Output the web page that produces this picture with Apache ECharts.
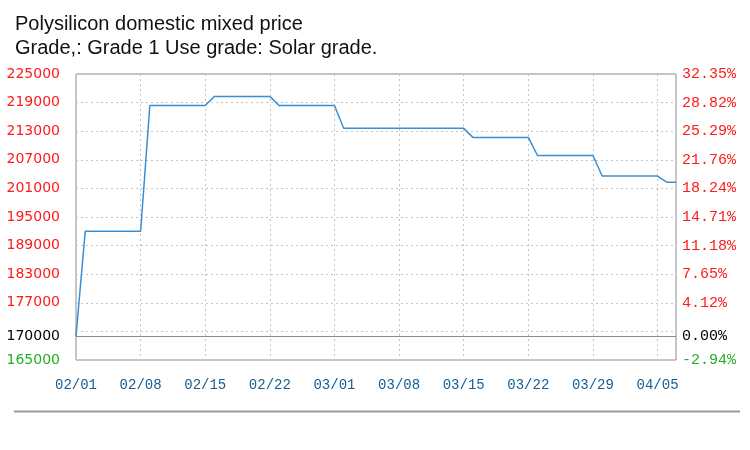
<!DOCTYPE html>
<html>
<head>
<meta charset="utf-8">
<script src="https://cdn.jsdelivr.net/npm/echarts@6/dist/echarts.min.js"></script>
<style>
html,body{margin:0;padding:0;background:#fff;}
#chart{width:750px;height:450px;}
</style>
</head>
<body>
<div id="chart"></div>
<script>
// ---- data ----
var titleText = 'Polysilicon domestic mixed price';
var subtitleText = 'Grade,: Grade 1 Use grade: Solar grade.';
var dates = [
  '02/01','02/02','02/03','02/04','02/05','02/06','02/07','02/08','02/09','02/10',
  '02/11','02/12','02/13','02/14','02/15','02/16','02/17','02/18','02/19','02/20',
  '02/21','02/22','02/23','02/24','02/25','02/26','02/27','02/28','03/01','03/02',
  '03/03','03/04','03/05','03/06','03/07','03/08','03/09','03/10','03/11','03/12',
  '03/13','03/14','03/15','03/16','03/17','03/18','03/19','03/20','03/21','03/22',
  '03/23','03/24','03/25','03/26','03/27','03/28','03/29','03/30','03/31','04/01',
  '04/02','04/03','04/04','04/05','04/06','04/07'
];
var prices = [
  170000,192000,192000,192000,192000,192000,192000,192000,218400,218400,
  218400,218400,218400,218400,218400,220300,220300,220300,220300,220300,
  220300,220300,218400,218400,218400,218400,218400,218400,218400,213600,
  213600,213600,213600,213600,213600,213600,213600,213600,213600,213600,
  213600,213600,213600,211700,211700,211700,211700,211700,211700,211700,
  207900,207900,207900,207900,207900,207900,207900,203600,203600,203600,
  203600,203600,203600,203600,202300,202300
];
var basePrice = 170000;
var yMin = 165000, yMax = 225000;
var gridValues = [165000,171000,177000,183000,189000,195000,201000,207000,213000,219000,225000];
var labelValues = [165000,170000,177000,183000,189000,195000,201000,207000,213000,219000,225000];

function labelColor(v){
  v = Number(v);
  if (v > basePrice) return '#ff1a1a';
  if (v < basePrice) return '#22b022';
  return '#000000';
}

var chart = echarts.init(document.getElementById('chart'), null, {renderer:'canvas'});
chart.setOption({
  animation:false,
  backgroundColor:'#ffffff',
  title:{
    text: titleText + '\n' + subtitleText,
    left: 10, top: 7,
    textStyle:{fontFamily:'Liberation Sans, Arial', fontSize:20, fontWeight:'normal', color:'#111', lineHeight:24}
  },
  grid:{left:76, right:74, top:74, bottom:90, show:true, borderColor:'#8c8c8c', borderWidth:1, backgroundColor:'transparent'},
  xAxis:{
    type:'category', data:dates, boundaryGap:false,
    axisLine:{show:false}, axisTick:{show:false},
    axisLabel:{interval:6, color:'#135e96', fontFamily:'Liberation Mono', fontSize:14, margin:18},
    splitLine:{show:true, interval:6, lineStyle:{color:'#c4c4c4', type:[2,3], width:1}}
  },
  yAxis:[{
    type:'value', min:yMin, max:yMax, position:'left',
    axisLine:{show:false},
    axisTick:{show:false, customValues:gridValues},
    axisLabel:{customValues:labelValues, color:labelColor, fontFamily:'DejaVu Sans', fontSize:14, margin:16,
      formatter:function(v){ return String(Math.round(v)); }},
    splitLine:{show:true, lineStyle:{color:'#c4c4c4', type:[2,3], width:1}}
  },{
    type:'value', min:yMin, max:yMax, position:'right',
    axisLine:{show:false},
    axisTick:{show:false, customValues:gridValues},
    axisLabel:{customValues:labelValues, color:labelColor, fontFamily:'Liberation Mono', fontSize:15, margin:6,
      formatter:function(v){ return ((v/basePrice - 1)*100).toFixed(2) + '%'; }},
    splitLine:{show:false}
  }],
  series:[{
    type:'line', data:prices, yAxisIndex:0, showSymbol:false, symbol:'none',
    lineStyle:{color:'#3a8fd4', width:1.5},
    itemStyle:{color:'#3a8fd4'},
    markLine:{silent:true, symbol:'none', label:{show:false},
      lineStyle:{color:'#8c8c8c', type:'solid', width:1},
      data:[{yAxis:basePrice}]}
  }],
  graphic:[{
    type:'line', shape:{x1:14, y1:411.5, x2:740, y2:411.5},
    style:{stroke:'#9a9a9a', lineWidth:2}
  }]
});
</script>
</body>
</html>
